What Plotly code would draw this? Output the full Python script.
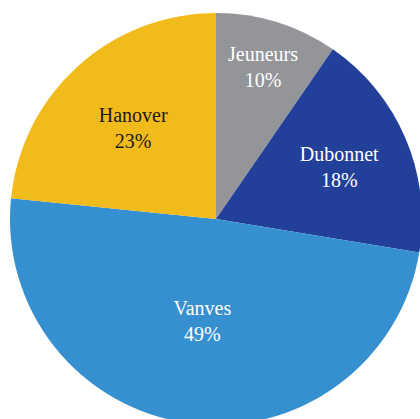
import plotly.graph_objects as go

labels = ["Jeuneurs", "Dubonnet", "Vanves", "Hanover"]
values = [9.6, 18.0, 49.0, 23.4]
colors = ["#939598", "#223F99", "#3690CF", "#F2BB1C"]
text_colors = ["#FFFFFF", "#FFFFFF", "#FFFFFF", "#1A1A1A"]

W, H = 430, 430
fig = go.Figure(go.Pie(
    labels=labels, values=values, sort=False, direction="clockwise", rotation=0,
    marker=dict(colors=colors, line=dict(width=0)),
    textposition="inside",
    texttemplate="%{label}<br>%{percent:.0%}",
    insidetextorientation="horizontal",
    textfont=dict(family="Liberation Serif", size=20, color=text_colors),
    domain=dict(x=[10 / W, 422 / W], y=[(H - 425) / H, (H - 13) / H]),
    showlegend=False, hoverinfo="none",
))
fig.update_layout(width=W, height=H, margin=dict(l=0, r=0, t=0, b=0),
                  paper_bgcolor="white", plot_bgcolor="white",
                  uniformtext=dict(minsize=20, mode="show"))
fig.write_html("out.html", config={"displayModeBar": False},
               post_script="document.body.style.margin='0';document.body.style.overflow='hidden';document.documentElement.style.overflow='hidden';")
